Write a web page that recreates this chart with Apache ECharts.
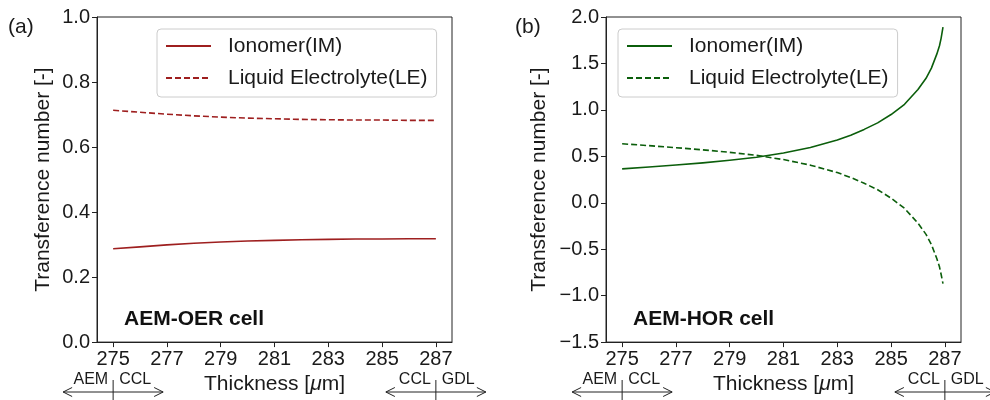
<!DOCTYPE html>
<html><head><meta charset="utf-8">
<script src="https://cdn.jsdelivr.net/npm/echarts@6/dist/echarts.min.js"></script>
<style>html,body{margin:0;padding:0;background:#fff}#c{width:990px;height:400px}</style>
</head><body><div id="c"></div>
<script>
const thicknessA = [275,276,277,278,279,280,281,282,283,284,285,286,287];
const ionomerA = [0.287,0.293,0.299,0.304,0.308,0.311,0.313,0.315,0.316,0.317,0.317,0.318,0.318];
const electrolyteA = [0.713,0.707,0.701,0.696,0.692,0.689,0.687,0.685,0.684,0.683,0.683,0.682,0.682];
const thicknessB = [275,276,277,278,279,280,281,282,283,283.5,284,284.5,285,285.5,286,286.3,286.5,286.7,286.8,286.86,286.93];
const ionomerB = [0.365,0.385,0.407,0.43,0.457,0.49,0.535,0.595,0.675,0.728,0.79,0.86,0.95,1.06,1.22,1.34,1.45,1.60,1.69,1.77,1.89];
const electrolyteB = [0.635,0.615,0.593,0.57,0.543,0.51,0.465,0.405,0.325,0.272,0.21,0.14,0.05,-0.06,-0.22,-0.34,-0.45,-0.60,-0.69,-0.77,-0.87];
const xTicks = [275,277,279,281,283,285,287];
const seriesNames = ['Ionomer(IM)','Liquid Electrolyte(LE)'];
const panelLabels = ['(a)','(b)'];
const cellLabels = ['AEM-OER cell','AEM-HOR cell'];
const leftRegions = ['AEM','CCL'];
const rightRegions = ['CCL','GDL'];
const colorA = '#9e1f1f';
const colorB = '#0b5e0b';

const FONT = '"Liberation Sans", Arial, sans-serif';
const TXT = '#1a1a1a';
const chart = echarts.init(document.getElementById('c'), null, {renderer: 'canvas'});

function pairs(xs, ys){ return xs.map((x,i)=>[x, ys[i]]); }
function fmt(v){ return v.toFixed(1).replace('-', '\u2212'); }

const grids = [
  {left: 97, right: 538, top: 17, bottom: 57},
  {left: 606, right: 29, top: 17, bottom: 57}
];
const yRanges = [{min:0, max:1, interval:0.2}, {min:-1.5, max:2, interval:0.5}];
const yNameGaps = [43, 56];

const xAxes = grids.map((g,i)=>({
  type:'value', gridIndex:i, min:274.4, max:287.6,
  name:'Thickness [{i|μ}m]', nameLocation:'middle', nameGap:30,
  nameTextStyle:{fontFamily:FONT, fontSize:21, color:TXT, rich:{i:{fontFamily:FONT,fontSize:21,fontStyle:'italic',color:TXT}}},
  axisLine:{show:true, onZero:false, lineStyle:{color:'#222', width:1}},
  axisTick:{show:true, length:5, inside:false, customValues:xTicks, lineStyle:{color:'#222'}},
  axisLabel:{show:true, margin:7, customValues:xTicks, fontFamily:FONT, fontSize:20, color:TXT},
  splitLine:{show:false}
}));
const yAxes = grids.map((g,i)=>({
  type:'value', gridIndex:i, min:yRanges[i].min, max:yRanges[i].max, interval:yRanges[i].interval,
  name:'Transference number [-]', nameLocation:'middle', nameGap:yNameGaps[i], nameRotate:90,
  nameTextStyle:{fontFamily:FONT, fontSize:21, color:TXT},
  axisLine:{show:true, onZero:false, lineStyle:{color:'#222', width:1}},
  axisTick:{show:true, length:5, inside:false, lineStyle:{color:'#222'}},
  axisLabel:{show:true, margin:7, fontFamily:FONT, fontSize:20, color:TXT, formatter:fmt},
  splitLine:{show:false}
}));

function mkSeries(name, xs, ys, idx, color, dashed){
  return {
    type:'line', name:name, xAxisIndex:idx, yAxisIndex:idx,
    data:pairs(xs, ys), symbol:'none', smooth:false,
    lineStyle:{color:color, width:1.6, type: dashed ? [6,3] : 'solid', join:'round'},
    itemStyle:{color:color}, emphasis:{disabled:true}, silent:true
  };
}
const series = [
  mkSeries(seriesNames[0]+' [a]', thicknessA, ionomerA, 0, colorA, false),
  mkSeries(seriesNames[1]+' [a]', thicknessA, electrolyteA, 0, colorA, true),
  mkSeries(seriesNames[0]+' [b]', thicknessB, ionomerB, 1, colorB, false),
  mkSeries(seriesNames[1]+' [b]', thicknessB, electrolyteB, 1, colorB, true)
];

const legendLefts = [157, 618];
const legends = ['[a]','[b]'].map((tag,i)=>({
  data: seriesNames.map(n=>n+' '+tag),
  orient:'vertical', left:legendLefts[i], top:29,
  itemWidth:45, itemHeight:14, itemGap:8,
  padding:[5,9,7,8],
  backgroundColor:'#fff', borderColor:'#cccccc', borderWidth:1, borderRadius:4,
  selectedMode:false,
  itemStyle:{opacity:0},
  textStyle:{fontFamily:FONT, fontSize:21, color:TXT, lineHeight:24, padding:[0,0,0,12]},
  formatter: n => n.replace(/ \[[ab]\]$/, '')
}));

chart.setOption({
  animation:false,
  backgroundColor:'#fff',
  grid: grids.map(g=>Object.assign({show:true, borderColor:'#222', borderWidth:1, backgroundColor:'transparent', containLabel:false}, g)),
  xAxis:xAxes, yAxis:yAxes, legend:legends, series:series
});

// annotations anchored to axis coordinates
const graphics = [];
const arrowY = 392, half = 50, head = 9;
function arrowGroup(px, labels){
  const st = {stroke:'#222', lineWidth:1, fill:null};
  graphics.push({type:'line', shape:{x1:px-half, y1:arrowY, x2:px+half, y2:arrowY}, style:st, silent:true});
  graphics.push({type:'polyline', shape:{points:[[px-half+head, arrowY-4.5],[px-half, arrowY],[px-half+head, arrowY+4.5]]}, style:st, silent:true});
  graphics.push({type:'polyline', shape:{points:[[px+half-head, arrowY-4.5],[px+half, arrowY],[px+half-head, arrowY+4.5]]}, style:st, silent:true});
  graphics.push({type:'line', shape:{x1:px, y1:380, x2:px, y2:402}, style:st, silent:true});
  graphics.push({type:'text', x:px-5, y:388, style:{text:labels[0], font:'16px '+FONT, fill:TXT, textAlign:'right', textVerticalAlign:'bottom'}, silent:true});
  graphics.push({type:'text', x:px+6, y:388, style:{text:labels[1], font:'16px '+FONT, fill:TXT, textAlign:'left', textVerticalAlign:'bottom'}, silent:true});
}
[0,1].forEach(i=>{
  const pL = chart.convertToPixel({xAxisIndex:i}, xTicks[0]);
  const pR = chart.convertToPixel({xAxisIndex:i}, xTicks[xTicks.length-1]);
  arrowGroup(pL, leftRegions);
  arrowGroup(pR, rightRegions);
  const g = grids[i];
  graphics.push({type:'text', x:g.left + 27, y:319, style:{text:cellLabels[i], font:'bold 21px '+FONT, fill:'#111', textAlign:'left', textVerticalAlign:'middle'}, silent:true});
  graphics.push({type:'text', x:(i===0?8:515), y:27, style:{text:panelLabels[i], font:'21px '+FONT, fill:TXT, textAlign:'left', textVerticalAlign:'middle'}, silent:true});
});
chart.setOption({graphic:{elements:graphics}});
</script>
</body></html>
